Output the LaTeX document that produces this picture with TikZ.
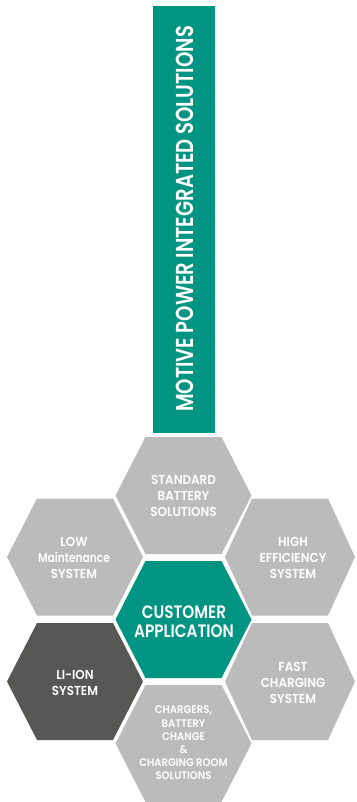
\documentclass[tikz,border=0pt]{standalone}
\usepackage{fontspec}
\setmainfont{Poppins SemiBold}[FakeStretch=0.92]
\newfontfamily\titlefont{Poppins SemiBold}[FakeStretch=0.80]
\newfontfamily\bigfont{Poppins SemiBold}[FakeStretch=0.85]
\newfontfamily\narrowfont{Poppins SemiBold}[FakeStretch=0.82]
\definecolor{hpgreen}{HTML}{009482}
\definecolor{hpgray}{HTML}{BBBBBB}
\definecolor{hpdark}{HTML}{575756}
\tikzset{
  hextext/.style={text=white, align=center, inner sep=0pt, font=\fontsize{13}{16}\selectfont},
  bigtext/.style={text=white, align=center, inner sep=0pt, font=\bigfont\fontsize{18}{19}\selectfont},
  smalltext/.style={text=white, align=center, inner sep=0pt, font=\fontsize{11}{13.2}\selectfont},
  titletext/.style={text=white, inner sep=0pt, rotate=90, anchor=base, font=\titlefont\fontsize{24.5}{25}\selectfont},
}
\newcommand\hexshape[5]{%
  \fill[#5] (#1-#3,#2) -- (#1-#4,#2-58.5) -- (#1+#4,#2-58.5) -- (#1+#3,#2)
    -- (#1+#4,#2+58.5) -- (#1-#4,#2+58.5) -- cycle;}
\begin{document}
\begin{tikzpicture}[x=1pt,y=-1pt]
\useasboundingbox (0,0) rectangle (356,802);
\fill[white] (0,0) rectangle (356,802);
% title bar
\fill[hpgreen] (153,6) rectangle (215,433);
\node[titletext] (title) at (193,219) {MOTIVE POWER INTEGRATED SOLUTIONS};
% hexagons
\hexshape{183.5}{495.5}{68}{38}{hpgray}
\hexshape{75}{557}{68}{38}{hpgray}
\hexshape{290}{557}{65}{38}{hpgray}
\hexshape{183.5}{619.5}{68}{38}{hpgreen}
\hexshape{75}{681.5}{68}{38}{hpdark}
\hexshape{290}{681.5}{65}{38}{hpgray}
\hexshape{183.5}{743.5}{68}{38}{hpgray}
% texts
\node[hextext] (standard) at (183.5,496) {STANDARD\\BATTERY\\SOLUTIONS};
\node[hextext] (low) at (74,557.5) {LOW\\{\narrowfont Maintenance}\\SYSTEM};
\node[hextext] (high) at (293,557.5) {HIGH\\EFFICIENCY\\SYSTEM};
\node[bigtext] (customer) at (184,621.5) {CUSTOMER\\APPLICATION};
\node[hextext] (liion) at (75,683) {LI-ION\\SYSTEM};
\node[hextext] (fast) at (293,683) {FAST\\CHARGING\\SYSTEM};
\node[smalltext] (chargers) at (183.5,743) {CHARGERS,\\BATTERY\\CHANGE\\\&\\CHARGING ROOM\\SOLUTIONS};
\end{tikzpicture}
\end{document}
